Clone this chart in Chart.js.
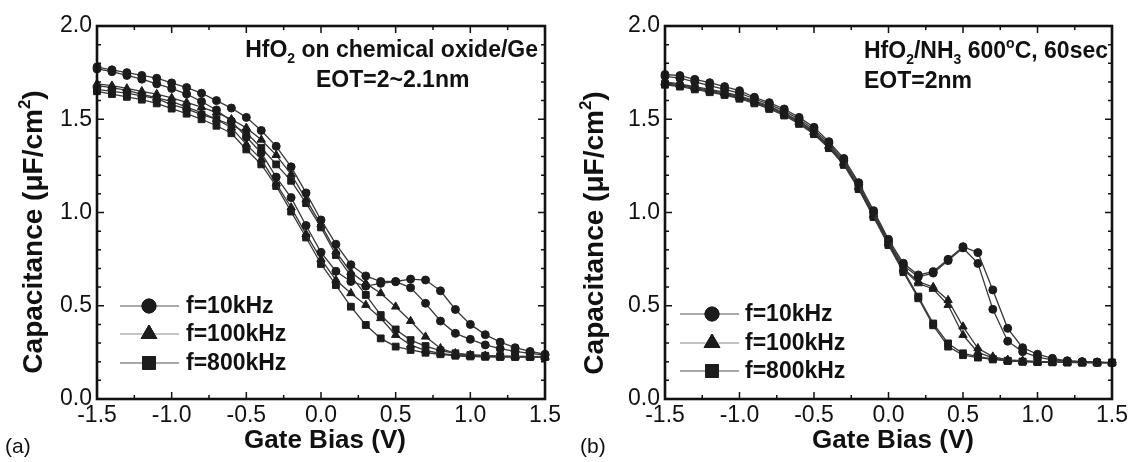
<!DOCTYPE html>
<html>
<head>
<meta charset="utf-8">
<script src="https://cdn.jsdelivr.net/npm/chart.js@4.4.0/dist/chart.umd.min.js"></script>
<style>
  html, body { margin: 0; padding: 0; background: #fff; }
  #wrap { position: relative; width: 1128px; height: 462px; overflow: hidden; }
  canvas { position: absolute; top: 0; }
  #cA { left: 0; }
  #cB { left: 564px; }
</style>
</head>
<body>
<div id="wrap">
  <canvas id="cA" width="564" height="462"></canvas>
  <canvas id="cB" width="564" height="462"></canvas>
</div>
<script>
// gate bias sweep (V)
const volts = [-1.5, -1.4, -1.3, -1.2, -1.1, -1.0, -0.9, -0.8, -0.7, -0.6, -0.5, -0.4, -0.3, -0.2, -0.1,
  0.0, 0.1, 0.2, 0.3, 0.4, 0.5, 0.6, 0.7, 0.8, 0.9, 1.0, 1.1, 1.2, 1.3, 1.4, 1.5];

// (a) HfO2 on chemical oxide/Ge, capacitance (uF/cm2), two sweeps per frequency
const a10kA = [1.78, 1.765, 1.75, 1.735, 1.72, 1.695, 1.67, 1.64, 1.60, 1.56, 1.51, 1.44, 1.355, 1.245, 1.105,
  0.96, 0.83, 0.72, 0.66, 0.63, 0.63, 0.643, 0.638, 0.58, 0.48, 0.40, 0.345, 0.305, 0.275, 0.255, 0.24];
const a10kB = [1.77, 1.755, 1.735, 1.715, 1.69, 1.665, 1.635, 1.595, 1.55, 1.49, 1.405, 1.32, 1.19, 1.08, 0.93,
  0.786, 0.685, 0.63, 0.605, 0.62, 0.629, 0.597, 0.513, 0.418, 0.352, 0.32, 0.29, 0.27, 0.255, 0.245, 0.235];
const a100kA = [1.69, 1.68, 1.665, 1.65, 1.635, 1.614, 1.59, 1.565, 1.535, 1.50, 1.454, 1.39, 1.308, 1.205, 1.07,
  0.935, 0.79, 0.68, 0.62, 0.567, 0.495, 0.418, 0.334, 0.272, 0.245, 0.236, 0.232, 0.23, 0.229, 0.228, 0.227];
const a100kB = [1.68, 1.67, 1.655, 1.635, 1.615, 1.596, 1.565, 1.535, 1.50, 1.455, 1.365, 1.285, 1.155, 1.027, 0.884,
  0.75, 0.638, 0.567, 0.504, 0.433, 0.343, 0.29, 0.26, 0.245, 0.235, 0.23, 0.228, 0.227, 0.227, 0.226, 0.226];
const a800kA = [1.66, 1.65, 1.64, 1.625, 1.61, 1.578, 1.555, 1.525, 1.50, 1.47, 1.427, 1.347, 1.258, 1.17, 1.05,
  0.92, 0.772, 0.66, 0.558, 0.45, 0.373, 0.316, 0.284, 0.26, 0.245, 0.236, 0.232, 0.23, 0.228, 0.227, 0.226];
const a800kB = [1.65, 1.635, 1.62, 1.605, 1.585, 1.557, 1.53, 1.50, 1.465, 1.425, 1.338, 1.258, 1.142, 1.005, 0.866,
  0.724, 0.611, 0.495, 0.397, 0.325, 0.281, 0.263, 0.248, 0.24, 0.232, 0.228, 0.226, 0.225, 0.225, 0.225, 0.225];

// (b) HfO2/NH3 600C 60sec
const b10kA = [1.74, 1.734, 1.714, 1.696, 1.675, 1.653, 1.618, 1.589, 1.555, 1.51, 1.457, 1.38, 1.29, 1.16, 1.01,
  0.856, 0.728, 0.665, 0.683, 0.749, 0.817, 0.785, 0.585, 0.379, 0.275, 0.24, 0.218, 0.205, 0.2, 0.197, 0.195];
const b10kB = [1.73, 1.72, 1.70, 1.68, 1.66, 1.64, 1.61, 1.58, 1.545, 1.50, 1.445, 1.37, 1.28, 1.15, 1.0,
  0.845, 0.715, 0.655, 0.675, 0.742, 0.81, 0.727, 0.481, 0.31, 0.254, 0.225, 0.21, 0.203, 0.2, 0.197, 0.195];
const b100kA = [1.70, 1.69, 1.675, 1.66, 1.645, 1.625, 1.60, 1.57, 1.535, 1.49, 1.435, 1.36, 1.27, 1.14, 0.99,
  0.84, 0.70, 0.63, 0.60, 0.53, 0.388, 0.272, 0.227, 0.21, 0.205, 0.2, 0.198, 0.197, 0.196, 0.195, 0.195];
const b100kB = [1.695, 1.685, 1.67, 1.655, 1.64, 1.62, 1.595, 1.565, 1.53, 1.485, 1.43, 1.355, 1.265, 1.135, 0.985,
  0.835, 0.695, 0.62, 0.59, 0.504, 0.343, 0.25, 0.22, 0.207, 0.203, 0.2, 0.198, 0.197, 0.196, 0.195, 0.195];
const b800kA = [1.69, 1.68, 1.665, 1.65, 1.635, 1.615, 1.59, 1.56, 1.525, 1.48, 1.425, 1.35, 1.26, 1.13, 0.98,
  0.83, 0.69, 0.549, 0.405, 0.298, 0.245, 0.227, 0.215, 0.205, 0.2, 0.198, 0.197, 0.196, 0.195, 0.195, 0.195];
const b800kB = [1.685, 1.675, 1.66, 1.645, 1.63, 1.61, 1.585, 1.555, 1.52, 1.475, 1.42, 1.345, 1.255, 1.125, 0.975,
  0.825, 0.68, 0.54, 0.395, 0.281, 0.235, 0.222, 0.212, 0.204, 0.2, 0.198, 0.197, 0.196, 0.195, 0.195, 0.195];

const legendLabels = ['f=10kHz', 'f=100kHz', 'f=800kHz'];
const markerStyles = ['circle', 'triangle', 'rect'];
const xTicks = [-1.5, -1.0, -0.5, 0.0, 0.5, 1.0, 1.5];
const yTicks = [0.0, 0.5, 1.0, 1.5, 2.0];

const FONT = '"Liberation Sans", Arial, Helvetica, sans-serif';
const INK = '#111';

function pts(ys) {
  return volts.map((v, i) => ({ x: v, y: ys[i] }));
}

const markerRadius = { circle: 4, triangle: 4.8, rect: 4.8 };

function makeSet(ys, style) {
  return {
    data: pts(ys),
    borderColor: '#383838',
    borderWidth: 1.3,
    backgroundColor: '#1c1c1c',
    pointStyle: style,
    pointRadius: markerRadius[style],
    pointBorderColor: '#1c1c1c',
    pointBackgroundColor: '#1c1c1c',
    pointBorderWidth: 1,
    tension: 0,
    fill: false,
    clip: false
  };
}

// text with sub/superscripts
function richWidth(ctx, parts, size) {
  let w = 0;
  parts.forEach(p => {
    const s = p.sub || p.sup ? Math.round(size * 0.6) : size;
    ctx.font = 'bold ' + s + 'px ' + FONT;
    w += ctx.measureText(p.t).width;
  });
  return w;
}

function drawRich(ctx, parts, x, y, size, align) {
  const w = richWidth(ctx, parts, size);
  let cx = align === 'right' ? x - w : align === 'center' ? x - w / 2 : x;
  ctx.textBaseline = 'alphabetic';
  ctx.textAlign = 'left';
  parts.forEach(p => {
    const s = p.sub || p.sup ? Math.round(size * 0.6) : size;
    ctx.font = 'bold ' + s + 'px ' + FONT;
    let dy = 0;
    if (p.sub) dy = size * 0.25;
    if (p.sup) dy = -size * 0.42;
    ctx.fillText(p.t, cx, y + dy);
    cx += ctx.measureText(p.t).width;
  });
}

function drawMarker(ctx, style, x, y, r) {
  ctx.save();
  ctx.fillStyle = '#1c1c1c';
  ctx.strokeStyle = '#1c1c1c';
  ctx.lineWidth = 1;
  if (Chart.helpers && Chart.helpers.drawPoint) {
    Chart.helpers.drawPoint(ctx, { pointStyle: style, radius: r, rotation: 0, borderWidth: 1 }, x, y);
    ctx.fill();
    ctx.stroke();
  } else {
    ctx.beginPath();
    ctx.arc(x, y, r, 0, Math.PI * 2);
    ctx.fill();
  }
  ctx.restore();
}

const framePlugin = {
  id: 'frame',
  afterDraw(chart, args, opts) {
    const ctx = chart.ctx;
    const a = chart.chartArea;
    const xs = chart.scales.x;
    const ys = chart.scales.y;
    ctx.save();
    ctx.strokeStyle = INK;

    // inward ticks on all four sides
    ctx.lineWidth = 1.5;
    ctx.beginPath();
    for (let i = 0; i <= 12; i++) {
      const px = xs.getPixelForValue(-1.5 + i * 0.25);
      const len = i % 2 === 0 ? 7 : 4;
      ctx.moveTo(px, a.bottom); ctx.lineTo(px, a.bottom - len);
      ctx.moveTo(px, a.top); ctx.lineTo(px, a.top + len);
    }
    for (let i = 0; i <= 20; i++) {
      const py = ys.getPixelForValue(i * 0.1);
      const len = i % 5 === 0 ? 7 : 4;
      ctx.moveTo(a.left, py); ctx.lineTo(a.left + len, py);
      ctx.moveTo(a.right, py); ctx.lineTo(a.right - len, py);
    }
    ctx.stroke();

    // plot frame
    ctx.lineWidth = 2.6;
    ctx.strokeRect(a.left, a.top, a.right - a.left, a.bottom - a.top);

    ctx.fillStyle = INK;
    // x axis title
    ctx.font = 'bold 26px ' + FONT;
    ctx.textAlign = 'center';
    ctx.textBaseline = 'middle';
    ctx.fillText('Gate Bias (V)', opts.xTitle[0], opts.xTitle[1]);

    // y axis title
    ctx.save();
    ctx.translate(opts.yTitle[0], opts.yTitle[1]);
    ctx.rotate(-Math.PI / 2);
    drawRich(ctx, [{ t: 'Capacitance (\u03bcF/cm' }, { t: '2', sup: true }, { t: ')' }], 0, 10, 28, 'center');
    ctx.restore();

    // notes
    opts.notes.forEach(n => drawRich(ctx, n.parts, n.x, n.y, 23, n.align));

    // legend
    opts.legend.rows.forEach((ry, i) => {
      const L = opts.legend;
      ctx.strokeStyle = i === 1 ? '#8a8a8a' : '#555';
      ctx.lineWidth = 1.2;
      ctx.beginPath();
      ctx.moveTo(L.x0, ry); ctx.lineTo(L.x1, ry);
      ctx.stroke();
      drawMarker(ctx, markerStyles[i], L.mx, ry, i === 0 ? 7 : 9);
      ctx.fillStyle = INK;
      ctx.font = 'bold 23px ' + FONT;
      ctx.textAlign = 'left';
      ctx.textBaseline = 'middle';
      ctx.fillText(legendLabels[i], L.tx, ry + 1);
    });

    // panel label
    ctx.font = '21px ' + FONT;
    ctx.textAlign = 'left';
    ctx.textBaseline = 'middle';
    ctx.fillText(opts.panel[0], opts.panel[1], opts.panel[2]);
    ctx.restore();
  }
};

function buildPanel(id, sets, o) {
  return new Chart(document.getElementById(id), {
    type: 'line',
    data: { datasets: sets },
    plugins: [framePlugin],
    options: {
      responsive: false,
      animation: false,
      devicePixelRatio: 1,
      layout: { padding: { top: 26, right: o.padRight, left: 0, bottom: 0 } },
      plugins: {
        legend: { display: false },
        tooltip: { enabled: false },
        frame: o
      },
      scales: {
        x: {
          type: 'linear',
          min: -1.5,
          max: 1.5,
          afterBuildTicks: s => { s.ticks = xTicks.map(v => ({ value: v })); },
          afterFit: s => { s.height = 63; s.paddingLeft = 0; s.paddingRight = 0; },
          ticks: {
            color: INK,
            padding: 3,
            font: { family: FONT, size: 23 },
            callback: v => v.toFixed(1)
          },
          grid: { display: false, drawTicks: false },
          border: { display: false }
        },
        y: {
          type: 'linear',
          min: 0,
          max: 2,
          afterBuildTicks: s => { s.ticks = yTicks.map(v => ({ value: v })); },
          afterFit: s => { s.width = o.yWidth; s.paddingTop = 0; s.paddingBottom = 0; },
          ticks: {
            color: INK,
            padding: 5,
            font: { family: FONT, size: 23 },
            callback: v => v.toFixed(1)
          },
          grid: { display: false, drawTicks: false },
          border: { display: false }
        }
      }
    }
  });
}

buildPanel('cA', [
  makeSet(a10kA, 'circle'), makeSet(a10kB, 'circle'),
  makeSet(a100kA, 'triangle'), makeSet(a100kB, 'triangle'),
  makeSet(a800kA, 'rect'), makeSet(a800kB, 'rect')
], {
  yWidth: 97,
  padRight: 19,
  xTitle: [325, 441],
  yTitle: [32, 232],
  notes: [
    { parts: [{ t: 'HfO' }, { t: '2', sub: true }, { t: ' on chemical oxide/Ge' }], x: 538, y: 57, align: 'right' },
    { parts: [{ t: 'EOT=2~2.1nm' }], x: 316, y: 87, align: 'left' }
  ],
  legend: { x0: 120, x1: 179, mx: 149, tx: 186, rows: [306, 334, 363] },
  panel: ['(a)', 5, 447]
});

buildPanel('cB', [
  makeSet(b10kA, 'circle'), makeSet(b10kB, 'circle'),
  makeSet(b100kA, 'triangle'), makeSet(b100kB, 'triangle'),
  makeSet(b800kA, 'rect'), makeSet(b800kB, 'rect')
], {
  yWidth: 101,
  padRight: 16,
  xTitle: [329, 441],
  yTitle: [29, 233],
  notes: [
    { parts: [{ t: 'HfO' }, { t: '2', sub: true }, { t: '/NH' }, { t: '3', sub: true }, { t: ' 600' }, { t: 'o', sup: true }, { t: 'C, 60sec' }], x: 300, y: 58, align: 'left' },
    { parts: [{ t: 'EOT=2nm' }], x: 300, y: 88, align: 'left' }
  ],
  legend: { x0: 116, x1: 175, mx: 148, tx: 181, rows: [314, 343, 371] },
  panel: ['(b)', 16, 447]
});
</script>
</body>
</html>
